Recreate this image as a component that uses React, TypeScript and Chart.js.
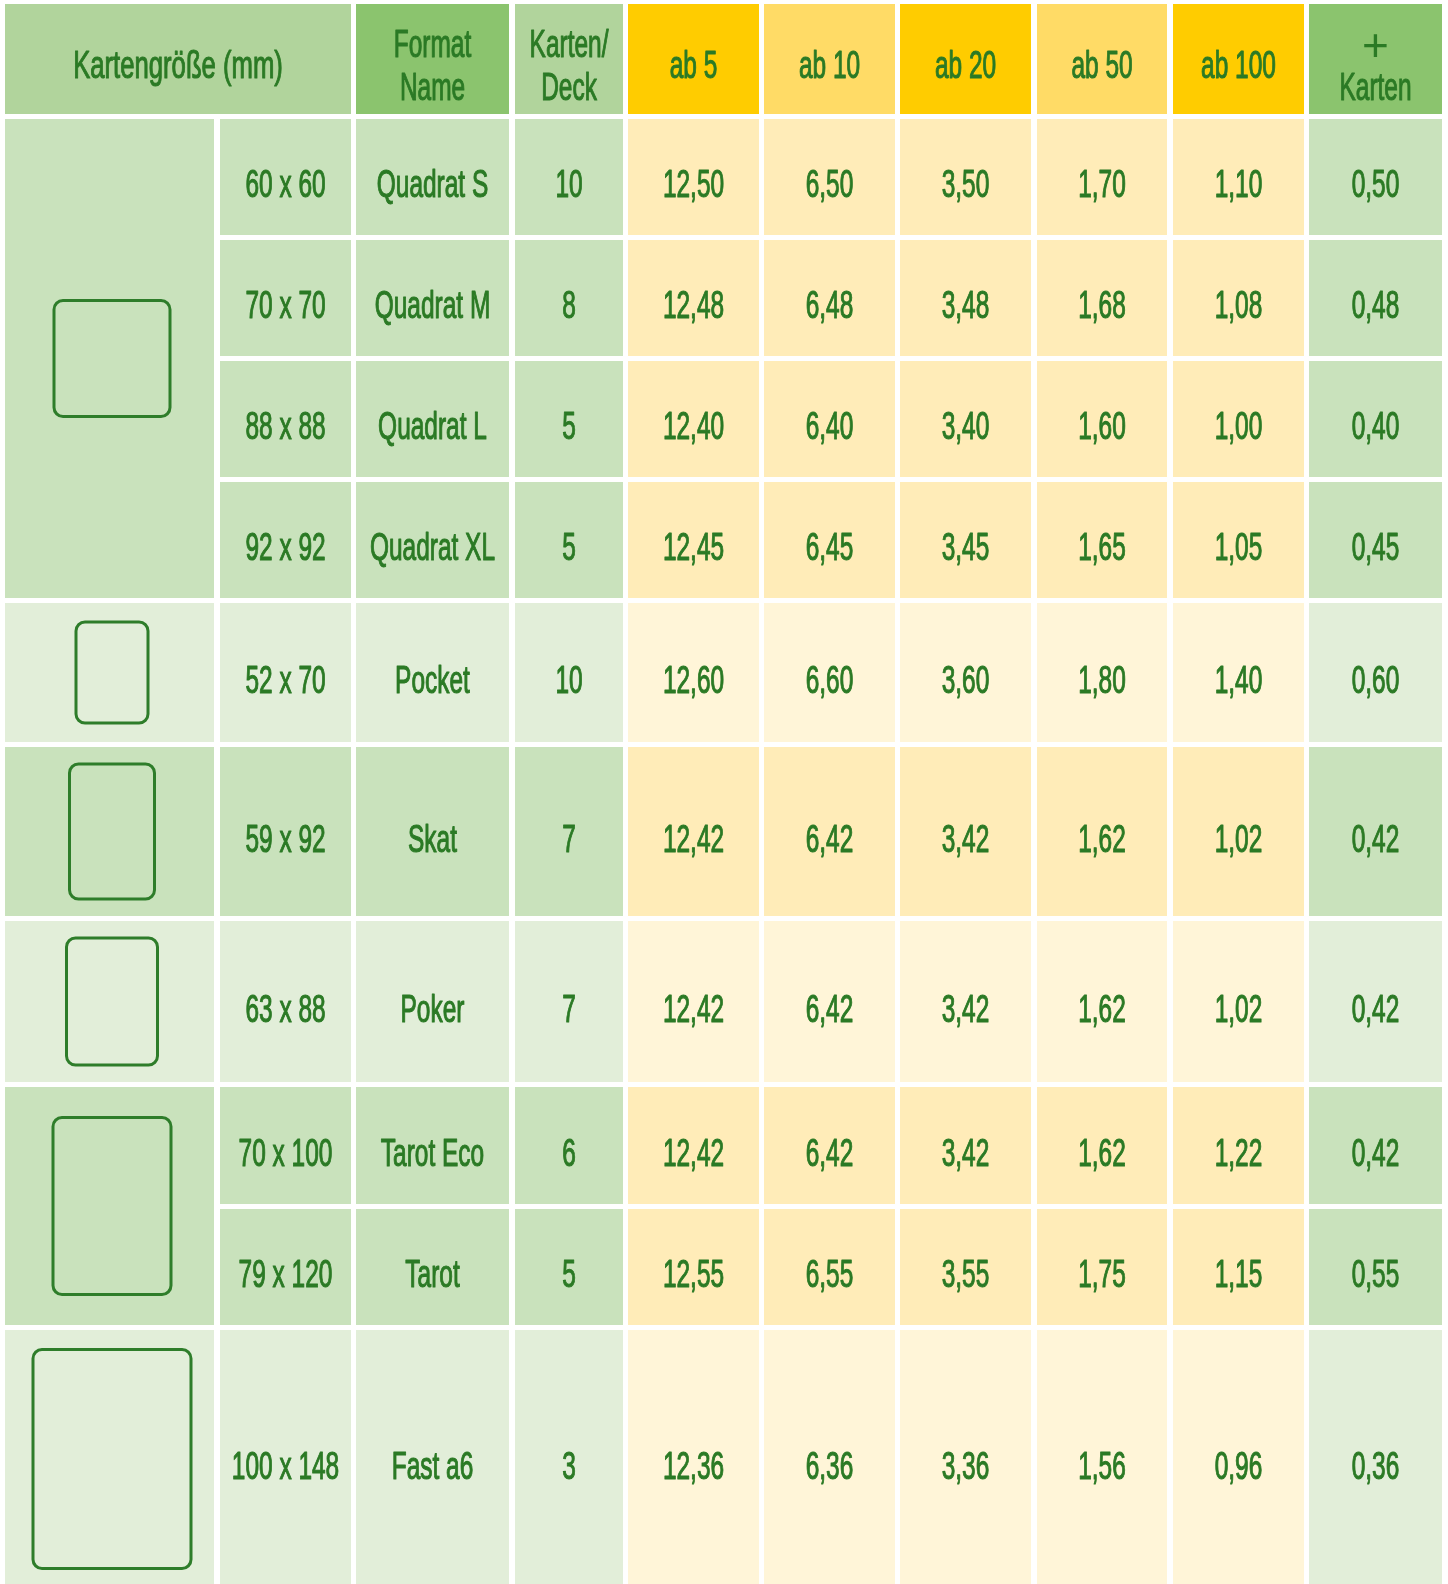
import React, { useEffect, useRef } from "react";
import { Chart, registerables } from "chart.js";

Chart.register(...registerables);

// ---------- data ----------
const headerLabels = ["Kartengröße (mm)", "Format\nName", "Karten/\nDeck", "ab 5", "ab 10", "ab 20", "ab 50", "ab 100", "+\nKarten"];
const sizes = ["60 x 60", "70 x 70", "88 x 88", "92 x 92", "52 x 70", "59 x 92", "63 x 88", "70 x 100", "79 x 120", "100 x 148"];
const formatNames = ["Quadrat S", "Quadrat M", "Quadrat L", "Quadrat XL", "Pocket", "Skat", "Poker", "Tarot Eco", "Tarot", "Fast a6"];
const cardsPerDeck = [10, 8, 5, 5, 10, 7, 7, 6, 5, 3];
const ab5 = [12.5, 12.48, 12.4, 12.45, 12.6, 12.42, 12.42, 12.42, 12.55, 12.36];
const ab10 = [6.5, 6.48, 6.4, 6.45, 6.6, 6.42, 6.42, 6.42, 6.55, 6.36];
const ab20 = [3.5, 3.48, 3.4, 3.45, 3.6, 3.42, 3.42, 3.42, 3.55, 3.36];
const ab50 = [1.7, 1.68, 1.6, 1.65, 1.8, 1.62, 1.62, 1.62, 1.75, 1.56];
const ab100 = [1.1, 1.08, 1.0, 1.05, 1.4, 1.02, 1.02, 1.22, 1.15, 0.96];
const plusKarten = [0.5, 0.48, 0.4, 0.45, 0.6, 0.42, 0.42, 0.42, 0.55, 0.36];
// groups of rows sharing one card icon: [firstRow, lastRow]
const groups = [[0, 3], [4, 4], [5, 5], [6, 6], [7, 8], [9, 9]];

// ---------- layout (positions / sizes / styles) ----------
const W = 1448;
const H = 1584;
const colEdges = [[5, 214], [220, 351], [356, 509], [515, 623], [628, 759], [764, 895], [900, 1031], [1037, 1167], [1173, 1304], [1309, 1442]];
const headerEdge = [4, 114];
const rowEdges = [[119, 235], [240, 356], [361, 477], [482, 598], [603, 742], [747, 916], [921, 1082], [1087, 1204], [1209, 1325], [1330, 1588]];
const iconSizes = [[119, 119], [75, 104], [88, 138], [94, 130], [121, 180], [161, 222]];
const iconCenterX = 112;
const headerFills = ["#b1d49c", "#8bc46e", "#b1d49c", "#ffcc00", "#ffdb66", "#ffcc00", "#ffdb66", "#ffcc00", "#8bc46e"];
const darkGreen = "#c9e2bc";
const darkYellow = "#ffecb8";
const lightGreen = "#e2eed9";
const lightYellow = "#fff5d8";
const textColor = "#2b7a25";
const iconColor = "#2e7d2a";
const fontCss = '38px "Liberation Sans Narrow", "Liberation Sans", "DejaVu Sans Condensed", sans-serif';
const plusFontCss = '300 46px "Liberation Sans", "DejaVu Sans", sans-serif';
const digitAdvance = 13.6;

const fmt = (v: number) => v.toFixed(2).replace(".", ",");

const tablePlugin = {
  id: "priceTable",
  afterDraw(chart: any) {
    const { ctx } = chart;
    const xs = chart.scales.x;
    const ys = chart.scales.y;
    const px = (v: number) => xs.getPixelForValue(v);
    const py = (v: number) => ys.getPixelForValue(v);

    ctx.save();
    ctx.fillStyle = "#ffffff";
    ctx.fillRect(0, 0, chart.width, chart.height);

    const cell = (x0: number, x1: number, y0: number, y1: number, color: string) => {
      ctx.fillStyle = color;
      const a = px(x0), b = px(x1), c = py(y0), d = py(y1);
      ctx.fillRect(Math.min(a, b), Math.min(c, d), Math.abs(b - a), Math.abs(d - c));
    };

    ctx.font = fontCss;
    const sx = digitAdvance / ctx.measureText("0").width;
    const text = (s: string, cx: number, baseline: number, wide = 1) => {
      ctx.save();
      ctx.translate(px(cx), py(baseline));
      ctx.scale(sx * wide, 1);
      ctx.font = fontCss;
      ctx.fillStyle = textColor;
      ctx.strokeStyle = textColor;
      ctx.lineWidth = 1.1;
      ctx.lineJoin = "round";
      ctx.textAlign = "center";
      ctx.textBaseline = "alphabetic";
      ctx.fillText(s, 0, 0);
      ctx.strokeText(s, 0, 0);
      ctx.restore();
    };
    const plus = (cx: number, baseline: number) => {
      ctx.save();
      ctx.font = plusFontCss;
      ctx.fillStyle = textColor;
      ctx.textAlign = "center";
      ctx.textBaseline = "alphabetic";
      ctx.fillText("+", px(cx), py(baseline));
      ctx.restore();
    };

    // header
    const hc = (headerEdge[0] + headerEdge[1]) / 2;
    headerLabels.forEach((lab, i) => {
      let x0: number, x1: number;
      if (i === 0) {
        x0 = colEdges[0][0];
        x1 = colEdges[1][1];
      } else {
        x0 = colEdges[i + 1][0];
        x1 = colEdges[i + 1][1];
      }
      cell(x0, x1, headerEdge[0], headerEdge[1], headerFills[i]);
      const cx = (x0 + x1) / 2;
      const lines = lab.split("\n");
      if (lines.length === 1) {
        text(lines[0], cx, hc + 19, i === 0 ? 1.05 : 1);
      } else {
        if (lines[0] === "+") plus(cx, hc + 2);
        else text(lines[0], cx, hc - 2);
        text(lines[1], cx, hc + 41);
      }
    });

    // body
    groups.forEach((g, gi) => {
      const dark = gi % 2 === 0;
      const green = dark ? darkGreen : lightGreen;
      const yellow = dark ? darkYellow : lightYellow;
      const gy0 = rowEdges[g[0]][0];
      const gy1 = rowEdges[g[1]][1];
      // merged icon cell
      cell(colEdges[0][0], colEdges[0][1], gy0, gy1, green);
      // icon
      const [iw, ih] = iconSizes[gi];
      const cy = (gy0 + gy1) / 2;
      const ix = px(iconCenterX - iw / 2 + 1.5);
      const iy = py(cy - ih / 2 + 1.5);
      const iww = px(iconCenterX + iw / 2 - 1.5) - ix;
      const ihh = py(cy + ih / 2 - 1.5) - iy;
      ctx.beginPath();
      ctx.roundRect(ix, iy, iww, ihh, 9);
      ctx.lineWidth = 3;
      ctx.strokeStyle = iconColor;
      ctx.stroke();

      for (let r = g[0]; r <= g[1]; r++) {
        const y0 = rowEdges[r][0];
        const y1 = rowEdges[r][1];
        const vals = [
          sizes[r],
          formatNames[r],
          String(cardsPerDeck[r]),
          fmt(ab5[r]),
          fmt(ab10[r]),
          fmt(ab20[r]),
          fmt(ab50[r]),
          fmt(ab100[r]),
          fmt(plusKarten[r]),
        ];
        const rc = (y0 + y1) / 2;
        vals.forEach((v, ci) => {
          const col = colEdges[ci + 1];
          const isYellow = ci >= 3 && ci <= 7;
          cell(col[0], col[1], y0, y1, isYellow ? yellow : green);
          text(v, (col[0] + col[1]) / 2, rc + 20);
        });
      }
    });
    ctx.restore();
  },
};

export default function App() {
  const ref = useRef<HTMLCanvasElement | null>(null);
  useEffect(() => {
    if (!ref.current) return;
    const chart = new Chart(ref.current, {
      type: "scatter",
      data: { datasets: [{ data: [] }] },
      options: {
        animation: false,
        responsive: false,
        devicePixelRatio: 1,
        layout: { padding: 0 },
        plugins: { legend: { display: false }, tooltip: { enabled: false } },
        scales: {
          x: { type: "linear", min: 0, max: W, display: false },
          y: { type: "linear", min: 0, max: H, reverse: true, display: false },
        },
      },
      plugins: [tablePlugin],
    } as any);
    return () => chart.destroy();
  }, []);
  return (
    <div style={{ position: "absolute", left: 0, top: 0, width: W, height: H, background: "#ffffff" }}>
      <canvas ref={ref} width={W} height={H} style={{ display: "block", width: W, height: H }} />
    </div>
  );
}
